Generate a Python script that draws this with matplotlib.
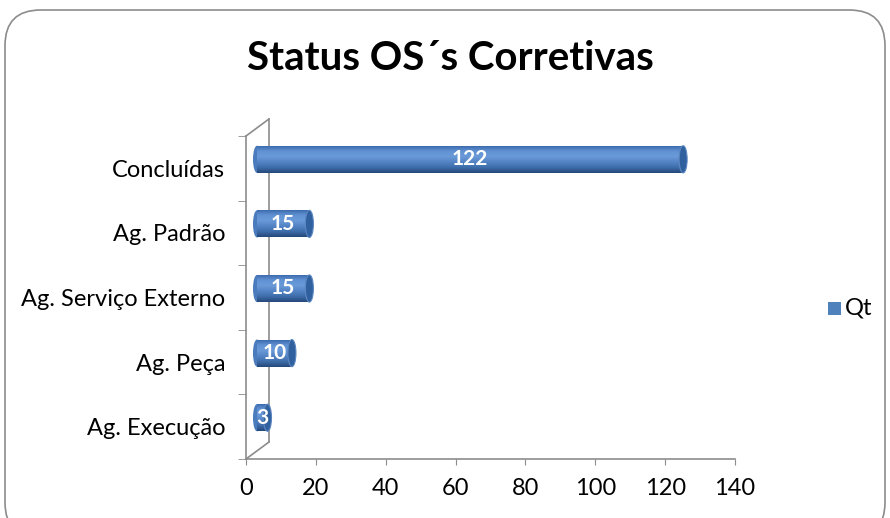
import numpy as np
import matplotlib
matplotlib.use('Agg')
import matplotlib.pyplot as plt
import matplotlib.transforms as mtransforms
from matplotlib.colors import LinearSegmentedColormap
from matplotlib.patches import Ellipse, FancyBboxPatch, Rectangle

categorias = ['Ag. Execução', 'Ag. Peça', 'Ag. Serviço Externo', 'Ag. Padrão', 'Concluídas']
valores = [3, 10, 15, 15, 122]
serie = 'Qt'
titulo = 'Status OS´s Corretivas'
xticks = [0, 20, 40, 60, 80, 100, 120, 140]

plt.rcParams['font.family'] = ['Lato', 'DejaVu Sans']

W, H = 890, 518
fig = plt.figure(figsize=(W / 100, H / 100), dpi=100)

# moldura arredondada
borda = FancyBboxPatch((5 / W, -20 / H), 880 / W, (H - 10 + 20) / H,
                       boxstyle='round,pad=0,rounding_size=0.04',
                       transform=fig.transFigure, facecolor='none',
                       edgecolor='#8c8c8c', linewidth=1.2, mutation_aspect=W / H,
                       zorder=-1)
fig.patches.append(borda)

# area do grafico (plano da frente)
x0, x1, yb, yt = 246, 735, 459, 136
ax = fig.add_axes([x0 / W, (H - yb) / H, (x1 - x0) / W, (yb - yt) / H])
ax.set_facecolor('none')
ax.set_xlim(0, 140)
ax.set_ylim(-0.5, 4.5)

for s in ['top', 'right']:
    ax.spines[s].set_visible(False)
for s in ['left', 'bottom']:
    ax.spines[s].set_color('#8c8c8c')
    ax.spines[s].set_linewidth(1.2)

ax.set_xticks(xticks)
ax.set_xticklabels([str(t) for t in xticks], fontsize=17)
ax.tick_params(axis='x', length=4, color='#8c8c8c', pad=10)

ax.set_yticks(range(len(categorias)))
ax.set_yticklabels(categorias, fontsize=17)
ax.set_yticks(np.arange(-0.5, 5, 1), minor=True)
ax.tick_params(axis='y', which='major', length=0, pad=15)
ax.tick_params(axis='y', which='minor', length=6, color='#8c8c8c')

# parede do fundo (profundidade 3D)
dx, dy = 23, 17
fundo = mtransforms.offset_copy(ax.transData, fig=fig, x=dx, y=dy, units='dots')
ax.plot([0, 0], [-0.5, 4.5], color='#8c8c8c', lw=1.2, transform=fundo, clip_on=False)
ax.plot([x0, x0 + dx], [H - yb, H - yb + dy], color='#8c8c8c', lw=1.2,
        transform=None, clip_on=False)
ax.plot([x0, x0 + dx], [H - yt, H - yt + dy], color='#8c8c8c', lw=1.2,
        transform=None, clip_on=False)

# barras cilindricas
meio = mtransforms.offset_copy(ax.transData, fig=fig, x=11, y=9, units='dots')
cmap = LinearSegmentedColormap.from_list(
    'cil', ['#3565a5', '#5f90d2', '#6a9ad8', '#5585c6', '#3f6eab', '#24487a'])
grad = np.linspace(0, 1, 64).reshape(-1, 1)
h = 0.42
cap = 2.3
for i, v in enumerate(valores):
    ax.add_patch(Ellipse((0, i), cap, h, facecolor='#4a7bbd', edgecolor='none',
                         transform=meio, zorder=2))
    ret = Rectangle((0, i - h / 2), v, h, facecolor='none', edgecolor='none',
                    transform=meio, zorder=3)
    ax.add_patch(ret)
    im = ax.imshow(grad, cmap=cmap, aspect='auto', origin='upper',
                   extent=[0, v, i - h / 2, i + h / 2], zorder=3, interpolation='bilinear')
    im.set_transform(meio)
    im.set_clip_path(ret)
    ax.add_patch(Ellipse((v, i), cap, h, facecolor='#30609e', edgecolor='#5b87c2',
                         lw=0.8, transform=meio, zorder=4))
    ax.text(v / 2, i, str(v), color='white', fontsize=15, fontweight='bold',
            ha='center', va='center', transform=meio, zorder=5)

ax.set_xlim(0, 140)
ax.set_ylim(-0.5, 4.5)

fig.text(450 / W, 1 - 58 / H, titulo, fontsize=29, fontweight='bold',
         ha='center', va='center')

# legenda
fig.patches.append(Rectangle((828 / W, 1 - 315 / H), 13 / W, 13 / H,
                             transform=fig.transFigure, facecolor='#4f81bd',
                             edgecolor='none'))
fig.text(845 / W, 1 - 308 / H, serie, fontsize=17, ha='left', va='center')

fig.savefig('out.png', dpi=100)
